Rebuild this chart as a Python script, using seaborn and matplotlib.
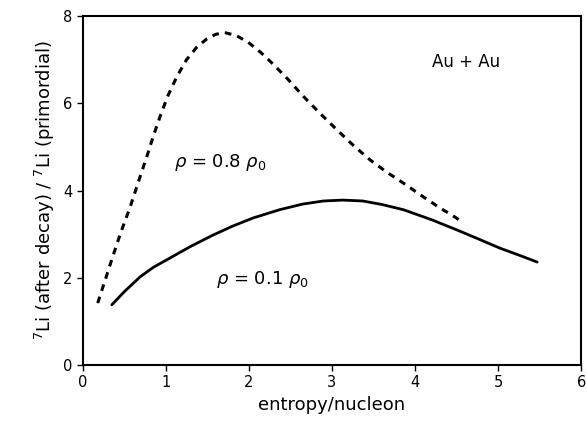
import pandas as pd
import numpy as np
import matplotlib.pyplot as plt
import seaborn as sns

x_high = [0.18, 0.27, 0.36, 0.46, 0.57, 0.67, 0.77, 0.85, 0.93, 1.02, 1.13, 1.25, 1.37, 1.49, 1.60, 1.71,
          1.85, 1.99, 2.14, 2.29, 2.47, 2.65, 2.85, 3.06, 3.26, 3.46, 3.66, 3.86, 4.08, 4.30, 4.45, 4.57]
y_high = [1.42, 1.95, 2.48, 3.05, 3.62, 4.20, 4.77, 5.25, 5.69, 6.15, 6.60, 7.00, 7.28, 7.47, 7.58, 7.62,
          7.55, 7.40, 7.17, 6.90, 6.55, 6.17, 5.78, 5.39, 5.03, 4.70, 4.42, 4.17, 3.88, 3.60, 3.43, 3.28]

x_low = [0.35, 0.50, 0.69, 0.85, 1.01, 1.30, 1.57, 1.80, 2.05, 2.37, 2.65, 2.90, 3.13, 3.37, 3.60,
         3.86, 4.20, 4.50, 4.75, 5.02, 5.25, 5.47]
y_low = [1.38, 1.68, 2.02, 2.24, 2.41, 2.72, 2.98, 3.18, 3.37, 3.56, 3.69, 3.76, 3.78, 3.76, 3.68,
         3.56, 3.33, 3.10, 2.90, 2.68, 2.52, 2.36]

x_ticks = [0, 1, 2, 3, 4, 5, 6]
y_ticks = [0, 2, 4, 6, 8]

df = pd.concat([
    pd.DataFrame({'x': x_high, 'y': y_high, 'rho': 'high'}),
    pd.DataFrame({'x': x_low, 'y': y_low, 'rho': 'low'}),
])

sns.set_style('ticks')
plt.rcParams['font.family'] = ['DejaVu Sans']
plt.rcParams['text.color'] = 'black'
plt.rcParams['axes.labelcolor'] = 'black'

fig = plt.figure(figsize=(5.87, 4.21), dpi=100)
ax = fig.add_axes([0.141, 0.133, 0.849, 0.829])

sns.lineplot(data=df[df.rho == 'high'], x='x', y='y', color='black', lw=2.2,
             linestyle=(0, (2.2, 2.0)), ax=ax, sort=False, estimator=None)
sns.lineplot(data=df[df.rho == 'low'], x='x', y='y', color='black', lw=2.0,
             ax=ax, sort=False, estimator=None)

ax.set_xlim(0, 6)
ax.set_ylim(0, 8)
ax.set_xticks(x_ticks)
ax.set_yticks(y_ticks)
ax.tick_params(direction='out', length=4, width=1, labelsize=10.5, colors='black')
for s in ax.spines.values():
    s.set_linewidth(1.5)
    s.set_color('black')

ax.set_xlabel('entropy/nucleon', fontsize=13)
ax.set_ylabel(r'$^7$Li (after decay) / $^7$Li (primordial)', fontsize=13)

ax.text(4.62, 6.95, 'Au + Au', fontsize=12, ha='center', va='center')
ax.text(1.1, 4.65, r'$\rho$ = 0.8 $\rho_0$', fontsize=13, ha='left', va='center')
ax.text(1.6, 1.95, r'$\rho$ = 0.1 $\rho_0$', fontsize=13, ha='left', va='center')

fig.savefig('out.png', dpi=100)
